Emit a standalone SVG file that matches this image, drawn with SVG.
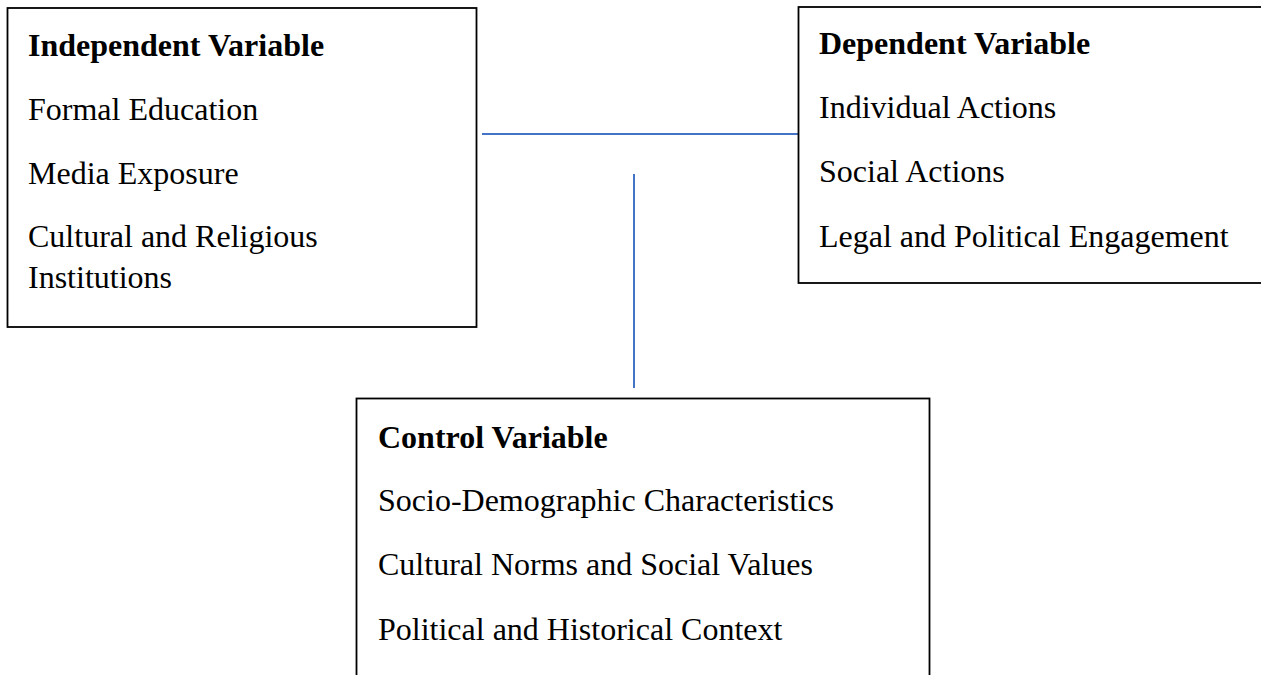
<svg xmlns="http://www.w3.org/2000/svg" width="1261" height="675" viewBox="0 0 1261 675">
<style>
.box{fill:#fff;stroke:#000;stroke-width:1.8}
.t{font-family:"Liberation Serif","Times New Roman",serif;font-size:32px;fill:#000}
.b{font-weight:bold}
.c{stroke:#4472c4;stroke-width:2;fill:none}
</style>
<g id="connectors">
<line class="c" x1="482" y1="134" x2="798" y2="134"/>
<line class="c" x1="634" y1="174" x2="634" y2="388"/>
</g>
<g id="independent">
<rect class="box" x="7.5" y="8" width="469" height="319"/>
<g class="t">
<text class="b" x="28" y="56">Independent Variable</text>
<text x="28" y="120">Formal Education</text>
<text x="28" y="184">Media Exposure</text>
<text x="28" y="247">Cultural and Religious</text>
<text x="28" y="288">Institutions</text>
</g>
</g>
<g id="dependent">
<rect class="box" x="798.5" y="7" width="470" height="276"/>
<g class="t">
<text class="b" x="819" y="54">Dependent Variable</text>
<text x="819" y="118">Individual Actions</text>
<text x="819" y="182">Social Actions</text>
<text x="819" y="247">Legal and Political Engagement</text>
</g>
</g>
<g id="control">
<rect class="box" x="356.5" y="398.5" width="573" height="300"/>
<g class="t">
<text class="b" x="378" y="448">Control Variable</text>
<text x="378" y="511">Socio-Demographic Characteristics</text>
<text x="378" y="575">Cultural Norms and Social Values</text>
<text x="378" y="640">Political and Historical Context</text>
</g>
</g>
</svg>
